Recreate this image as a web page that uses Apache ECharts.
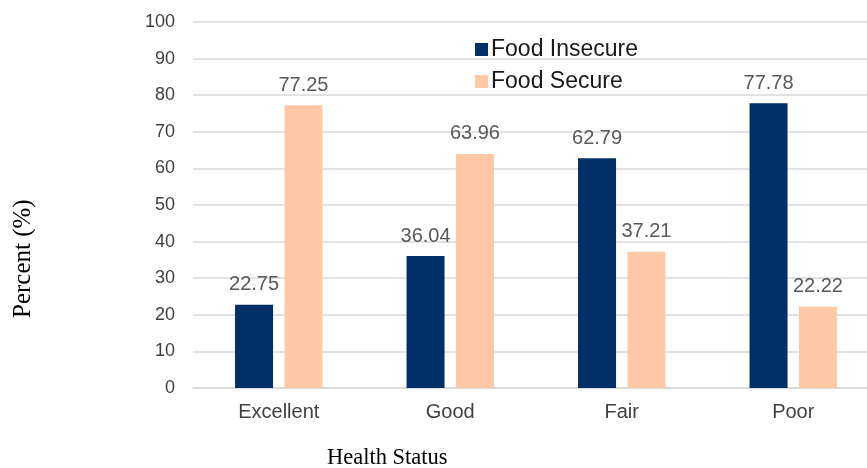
<!DOCTYPE html>
<html><head><meta charset="utf-8">
<script src="https://cdn.jsdelivr.net/npm/echarts@6/dist/echarts.min.js"></script>
<style>html,body{margin:0;padding:0;background:#fff;overflow:hidden;width:100%;height:100%}#c{width:867px;height:468px}</style>
</head><body><div id="c"></div>
<script>
const categories = ['Excellent', 'Good', 'Fair', 'Poor'];
const foodInsecure = [22.75, 36.04, 62.79, 77.78];
const foodSecure = [77.25, 63.96, 37.21, 22.22];
const yTicks = [0, 10, 20, 30, 40, 50, 60, 70, 80, 90, 100];
const xTitle = 'Health Status';
const yTitle = 'Percent (%)';

const chart = echarts.init(document.getElementById('c'));
const lbl = {show: true, position: 'top', distance: 10, color: '#595959', fontSize: 20, fontFamily: 'Liberation Sans', formatter: p => p.value.toFixed(2)};
chart.setOption({
  animation: false,
  grid: {left: 193, top: 22, width: 686, height: 366, outerBoundsMode: 'none', containLabel: false},
  legend: {
    orient: 'vertical', left: 470, top: 33, itemWidth: 13, itemHeight: 13, itemGap: 9,
    icon: 'rect',
    textStyle: {fontSize: 23, color: '#1a1a1a', fontFamily: 'Liberation Sans', padding: [0, 0, 0, -2]},
    data: ['Food Insecure', 'Food Secure']
  },
  graphic: [
    {type: 'text', left: 327, top: 447, style: {text: xTitle, font: '22.5px "Liberation Serif"', fill: '#000'}},
    {type: 'text', x: 11, y: 318, rotation: Math.PI / 2, style: {text: yTitle, font: '25px "Liberation Serif"', fill: '#000', textAlign: 'left', textVerticalAlign: 'top'}}
  ],
  xAxis: {
    type: 'category', data: categories,
    axisLine: {lineStyle: {color: '#d9d9d9', width: 1.5}}, axisTick: {show: false},
    axisLabel: {fontSize: 20, color: '#404040', fontFamily: 'Liberation Sans', margin: 14}
  },
  yAxis: {
    type: 'value', min: yTicks[0], max: yTicks[yTicks.length - 1], interval: 10,
    axisLine: {show: false}, axisTick: {show: false},
    splitLine: {lineStyle: {color: '#d9d9d9', width: 1.5}},
    axisLabel: {fontSize: 18, color: '#404040', fontFamily: 'Liberation Sans', margin: 18}
  },
  series: [
    {name: 'Food Insecure', type: 'bar', data: foodInsecure, barWidth: 38, barGap: '30%', itemStyle: {color: '#002e66'}, label: lbl},
    {name: 'Food Secure', type: 'bar', data: foodSecure, barWidth: 38, itemStyle: {color: '#ffc8a6'}, label: lbl}
  ]
});
</script></body></html>
